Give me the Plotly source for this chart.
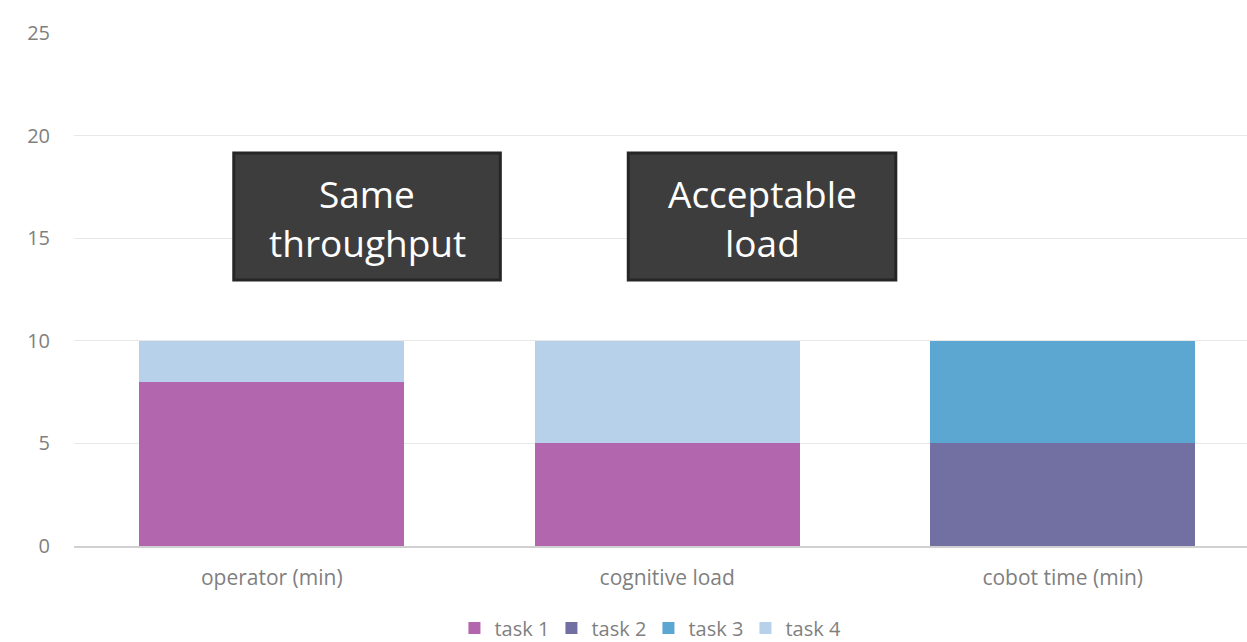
import plotly.graph_objects as go

categories = ["operator (min)", "cognitive load", "cobot time (min)"]
series_names = ["task 1", "task 2", "task 3", "task 4"]
task1 = [8, 5, 0]
task2 = [0, 0, 5]
task3 = [0, 0, 5]
task4 = [2, 5, 0]
colors = ["#B166AE", "#7270A3", "#5BA7D1", "#B7D1EA"]
y_ticks = [0, 5, 10, 15, 20, 25]
notes = [["Same", "throughput"], ["Acceptable", "load"]]

fig = go.Figure()
for name, vals, col in zip(series_names, [task1, task2, task3, task4], colors):
    fig.add_trace(go.Bar(x=categories, y=vals, name=name, marker=dict(color=col, line=dict(width=0))))

font_family = "'Open Sans', sans-serif"
# annotation boxes (positions in axis units: category index, value)
boxes = [(-0.096, 0.578), (0.9015, 1.578)]
y0b, y1b = 12.96, 19.15
for (x0, x1), lines in zip(boxes, notes):
    fig.add_shape(type="rect", xref="x", yref="y", x0=x0, x1=x1, y0=y0b, y1=y1b,
                  fillcolor="#3D3D3D", line=dict(color="#262626", width=3), layer="above")
    for ly, txt in zip([17.2, 14.8], lines):
        fig.add_annotation(xref="x", yref="y", x=(x0 + x1) / 2, y=ly, text=txt,
                           showarrow=False, font=dict(family=font_family, size=37, color="white"),
                           align="center", yanchor="middle")

fig.update_layout(
    barmode="stack",
    bargap=0.33,
    width=1247, height=642,
    margin=dict(l=74, r=0, t=33, b=96),
    plot_bgcolor="white", paper_bgcolor="white",
    font=dict(family=font_family, size=21, color="#7F7F7F"),
    legend=dict(orientation="h", x=0.52, xanchor="center", xref="container",
                y=0.022, yanchor="middle", yref="container",
                font=dict(size=20, color="#7F7F7F"), traceorder="normal", itemwidth=30,
                entrywidth=52, entrywidthmode="pixels"),
    showlegend=True,
)
fig.update_yaxes(range=[0, 25], tickvals=y_ticks, gridcolor="#E8E8E8", gridwidth=1,
                 zeroline=False, showline=False, ticklabelstandoff=23,
                 tickfont=dict(size=20, color="#7F7F7F"))
fig.update_xaxes(range=[-0.5, 2.466], showline=True, linecolor="#D0D0D0", linewidth=1.5, ticks="",
                 ticklabelstandoff=12, tickfont=dict(size=21, color="#7F7F7F"))

fig.write_html("out.html")
